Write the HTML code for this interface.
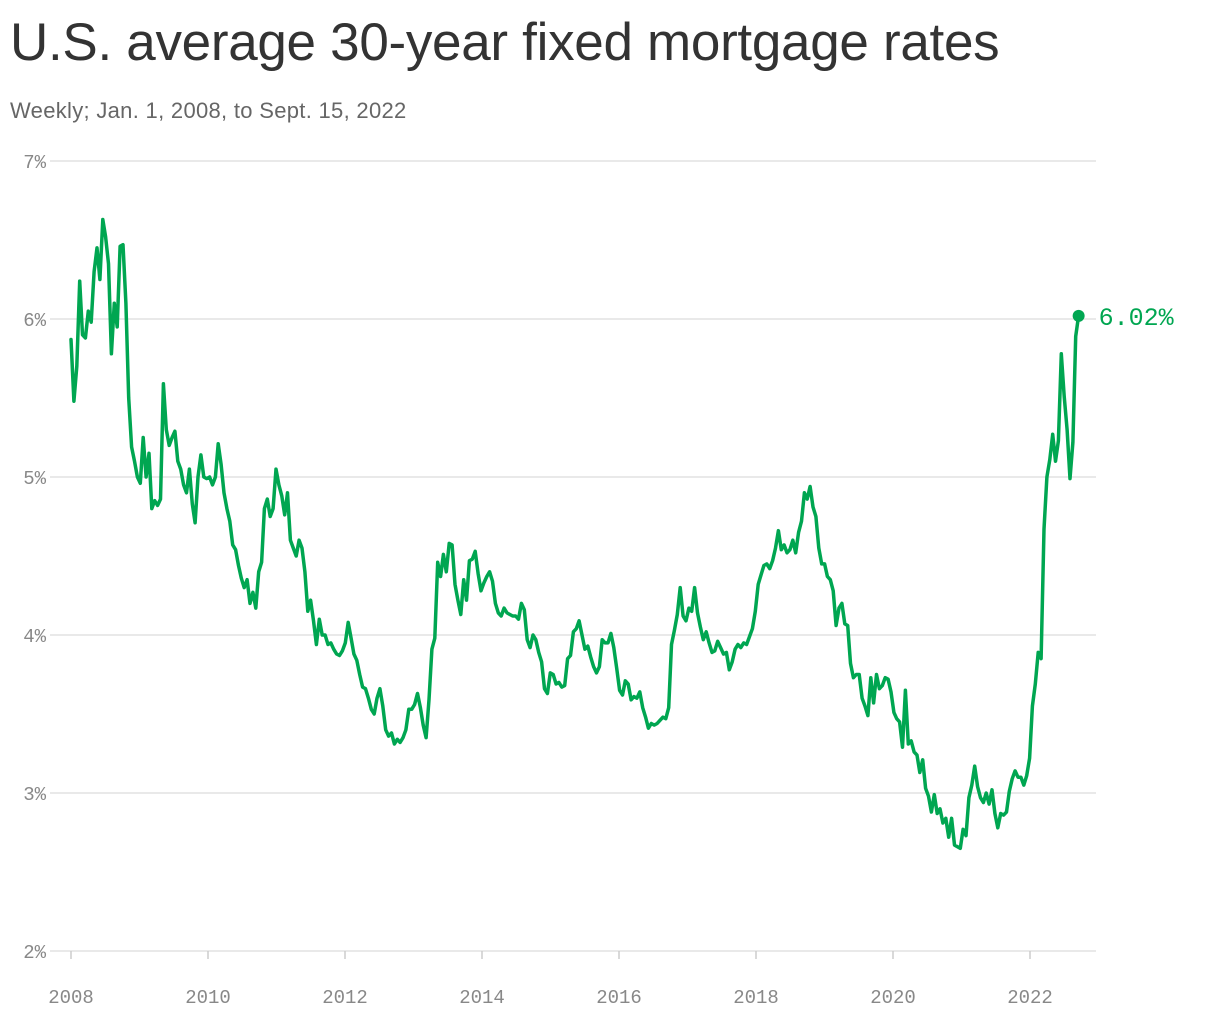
<!DOCTYPE html>
<html><head><meta charset="utf-8">
<style>
html,body{margin:0;padding:0;background:#fff;width:1220px;height:1020px;overflow:hidden;font-family:"Liberation Sans",sans-serif}
h1{position:absolute;left:10px;top:12px;margin:0;font-size:53px;line-height:62px;font-weight:normal;color:#333;letter-spacing:-0.3px}
.sub{position:absolute;left:10px;top:97px;font-size:22px;line-height:28px;color:#666;letter-spacing:0.3px}
svg{position:absolute;left:0;top:0}
</style></head><body>
<h1>U.S. average 30-year fixed mortgage rates</h1>
<div class="sub">Weekly; Jan. 1, 2008, to Sept. 15, 2022</div>
<svg id="chart" width="1220" height="1020"></svg>
<script>
const yTicks=[2,3,4,5,6,7];
const yTickLabels=["2%","3%","4%","5%","6%","7%"];
const xTicks=[2008,2010,2012,2014,2016,2018,2020,2022];
const xTickLabels=["2008","2010","2012","2014","2016","2018","2020","2022"];
const startYear=2008;
const endYear=2022.71;
const rates=[
5.87,5.48,5.7,6.24,5.9,5.88,6.05,5.98,6.3,6.45,6.25,6.63,6.52,6.35,5.78,6.1,5.95,6.46,6.47,6.1,5.5,5.19,5.1,5.0,
4.96,5.25,5.0,5.15,4.8,4.85,4.82,4.86,5.59,5.3,5.2,5.25,5.29,5.1,5.05,4.95,4.9,5.05,4.83,4.71,5.0,5.14,5.0,4.99,
5.0,4.95,5.0,5.21,5.08,4.9,4.8,4.72,4.57,4.54,4.44,4.36,4.3,4.35,4.2,4.27,4.17,4.4,4.46,4.8,4.86,4.75,4.8,5.05,
4.95,4.88,4.76,4.9,4.6,4.55,4.5,4.6,4.55,4.4,4.15,4.22,4.09,3.94,4.1,4.0,4.0,3.94,3.95,3.91,3.88,3.87,3.9,3.95,
4.08,3.98,3.88,3.84,3.75,3.67,3.66,3.6,3.53,3.5,3.6,3.66,3.55,3.4,3.36,3.38,3.31,3.34,3.32,3.35,3.4,3.53,3.53,3.56,
3.63,3.54,3.43,3.35,3.59,3.91,3.98,4.46,4.37,4.51,4.4,4.58,4.57,4.32,4.22,4.13,4.35,4.22,4.47,4.48,4.53,4.39,4.28,4.33,
4.37,4.4,4.34,4.2,4.14,4.12,4.17,4.14,4.13,4.12,4.12,4.1,4.2,4.16,3.97,3.92,4.0,3.97,3.89,3.83,3.66,3.63,3.76,3.75,
3.69,3.7,3.67,3.68,3.85,3.87,4.02,4.04,4.09,4.0,3.91,3.93,3.86,3.8,3.76,3.8,3.97,3.95,3.95,4.01,3.92,3.79,3.65,3.62,
3.71,3.69,3.59,3.61,3.6,3.64,3.54,3.48,3.41,3.44,3.43,3.44,3.46,3.48,3.47,3.54,3.94,4.03,4.13,4.30,4.12,4.09,4.17,4.15,
4.3,4.14,4.05,3.97,4.02,3.95,3.89,3.9,3.96,3.92,3.88,3.89,3.78,3.83,3.91,3.94,3.92,3.95,3.94,3.99,4.04,4.15,4.32,4.38,
4.44,4.45,4.42,4.47,4.55,4.66,4.54,4.57,4.52,4.54,4.6,4.52,4.65,4.72,4.9,4.86,4.94,4.81,4.75,4.55,4.45,4.45,4.37,4.35,
4.28,4.06,4.17,4.2,4.07,4.06,3.82,3.73,3.75,3.75,3.6,3.55,3.49,3.73,3.57,3.75,3.66,3.68,3.73,3.72,3.64,3.51,3.47,3.45,
3.29,3.65,3.31,3.33,3.26,3.24,3.13,3.21,3.03,2.98,2.88,2.99,2.87,2.9,2.81,2.84,2.72,2.84,2.67,2.66,2.65,2.77,2.73,2.97,
3.05,3.17,3.04,2.97,2.94,3.0,2.93,3.02,2.87,2.78,2.87,2.86,2.88,3.01,3.09,3.14,3.10,3.1,3.05,3.11,3.22,3.55,3.69,3.89,
3.85,4.67,5.0,5.11,5.27,5.1,5.23,5.78,5.51,5.3,4.99,5.22,5.89,6.02
];
const lastLabel="6.02%";
const NS="http://www.w3.org/2000/svg";
const svg=document.getElementById('chart');
const x=t=>71+(t-2008)*(959/14);
const y=v=>951-(v-2)*158;
function el(tag,attrs,parent){const e=document.createElementNS(NS,tag);for(const k in attrs)e.setAttribute(k,attrs[k]);(parent||svg).appendChild(e);return e;}
yTicks.forEach((v,i)=>{
  const l=el('line',{x1:50,x2:1096,y1:y(v),y2:y(v),stroke:'#e2e2e2','stroke-width':1.5});
  
  
  const t=el('text',{x:46,y:y(v)+7,'text-anchor':'end','font-size':19,fill:'#888','font-family':'"Liberation Mono",monospace'});
  t.textContent=yTickLabels[i];
  
  
});
xTicks.forEach((v,i)=>{
  const tk=el('line',{x1:x(v),x2:x(v),y1:951,y2:959,stroke:'#ccc','stroke-width':1.5});
  
  
  const t=el('text',{x:x(v),y:1003,'text-anchor':'middle','font-size':19,fill:'#888','font-family':'"Liberation Mono",monospace'});
  t.textContent=xTickLabels[i];
  
  
});
const step=(endYear-startYear)/(rates.length-1);
const pts=rates.map((r,i)=>[x(startYear+i*step),y(r)]);
const p=el('polyline',{points:pts.map(q=>q[0].toFixed(1)+','+q[1].toFixed(1)).join(' '),fill:'none',stroke:'#00a651','stroke-width':3.5,'stroke-linejoin':'round','stroke-linecap':'round'});


const last=pts[pts.length-1];
const d=el('circle',{cx:last[0],cy:last[1],r:6,fill:'#00a651'});


const lt=el('text',{x:last[0]+20,y:last[1]+9,'font-size':25,fill:'#00a651','font-family':'"Liberation Mono",monospace'});
lt.textContent=lastLabel;


</script>
</body></html>
